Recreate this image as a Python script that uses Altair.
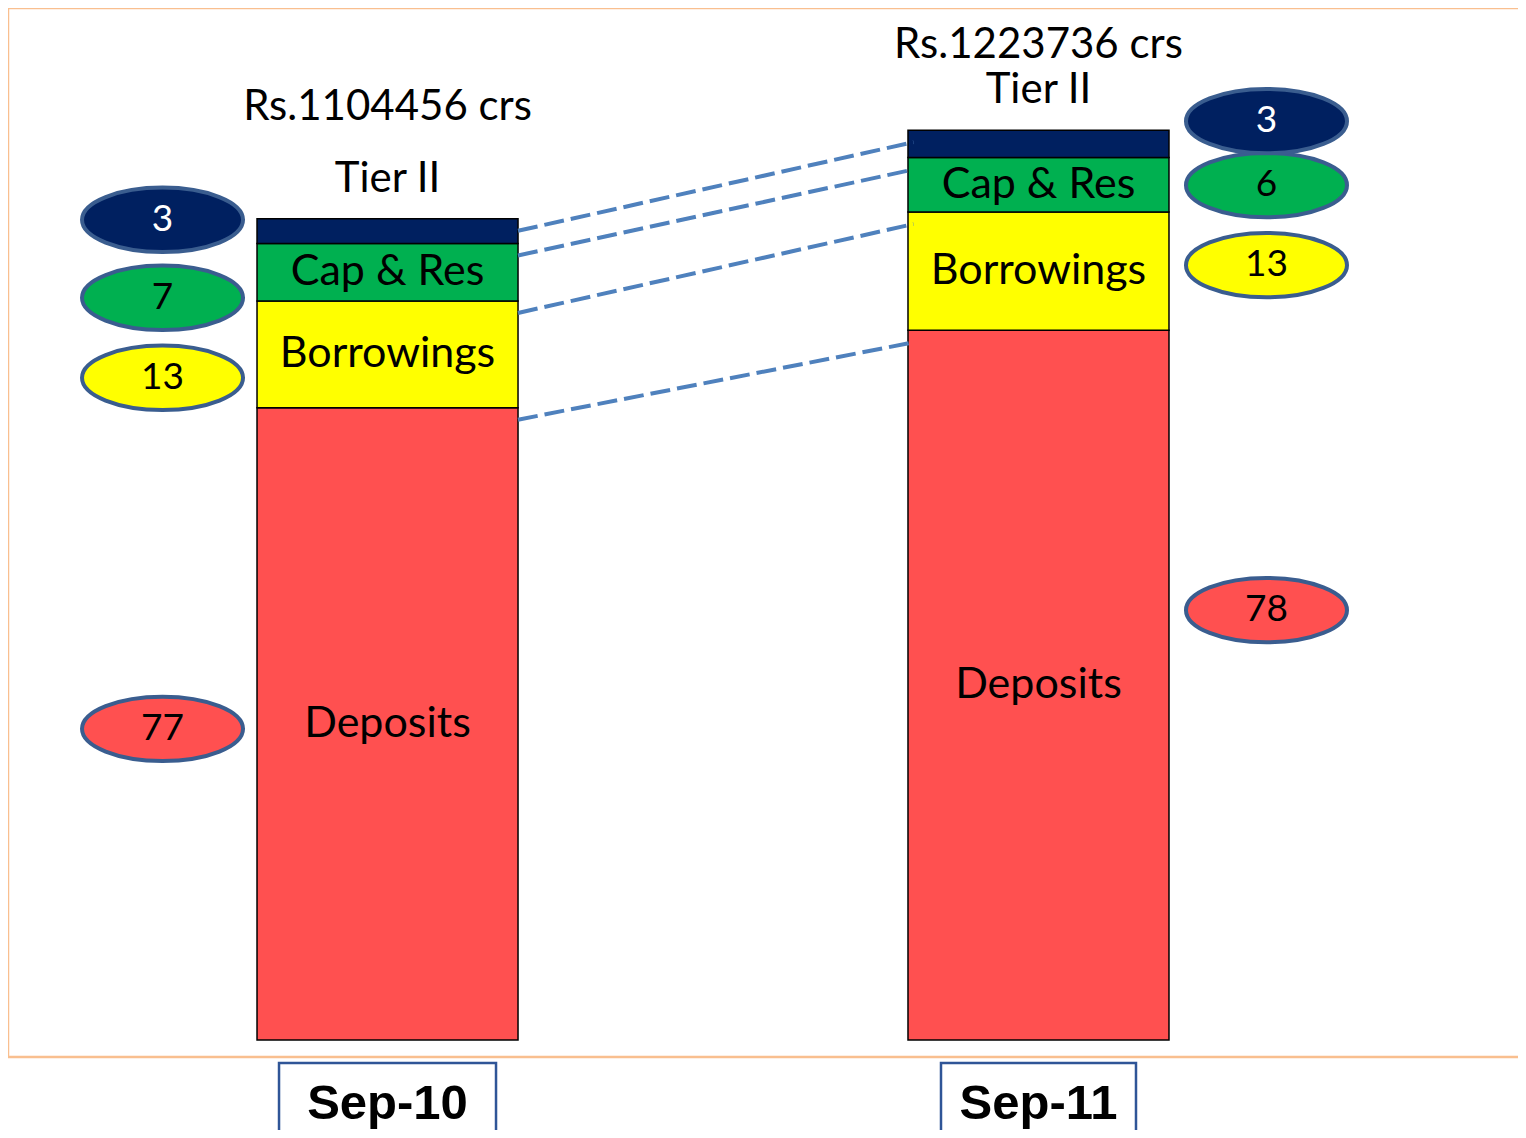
import altair as alt
import pandas as pd

# ---------------- data ----------------
periods = ["Sep-10", "Sep-11"]
totals = [1104456, 1223736]                      # Rs. crores
segments = ["Deposits", "Borrowings", "Cap & Res", "Tier II"]
pct_sep10 = [77, 13, 7, 3]
pct_sep11 = [78, 13, 6, 3]
seg_colors = ["#ff5050", "#ffff00", "#00b050", "#002060"]

# ---------------- layout (pixels) ----------------
W, H = 1510, 1049
Y_DOMAIN = [-22900, 1388000]
PX = H / (Y_DOMAIN[1] - Y_DOMAIN[0])             # pixels per data unit
ell_side = {"Sep-10": -225, "Sep-11": 228}       # ellipse column offset from bar centre
ell_stack = {"Sep-10": {"Tier II": 1, "Cap & Res": 79, "Borrowings": 159},
             "Sep-11": {"Tier II": -9, "Cap & Res": 55, "Borrowings": 135}}
dep_nudge = {"Sep-10": 5, "Sep-11": -75}
rs_dy = {"Sep-10": -112, "Sep-11": -85}

# ---------------- build tables ----------------
rows = []
for p, tot, pcts in zip(periods, totals, [pct_sep10, pct_sep11]):
    base = 0.0
    for k, (s, v) in enumerate(zip(segments, pcts)):
        amt = tot * v / 100.0
        rows.append(dict(period=p, segment=s, order=k, pct=v, amount=amt,
                         y0=base, y1=base + amt, total=tot,
                         inlabel=(s if s != "Tier II" else "")))
        base += amt
df = pd.DataFrame(rows)
df["mid"] = (df["y0"] + df["y1"]) / 2

# ellipse anchors (pixel gaps converted through the y scale)
ly = []
for r in df.itertuples():
    gaps = ell_stack[r.period]
    if r.segment in gaps:
        ly.append(r.total - gaps[r.segment] / PX)
    else:
        ly.append(r.mid - dep_nudge[r.period] / PX)
df["ly"] = ly

tot_df = pd.DataFrame({"period": periods, "total": totals,
                       "rs": [f"Rs.{t} crs" for t in totals],
                       "tier": ["Tier II"] * len(periods)})

# connectors: top of each segment in Sep-10 to the same in Sep-11
a = df[df.period == periods[0]].set_index("segment")
b = df[df.period == periods[1]].set_index("segment")
lines_df = pd.DataFrame({"p_from": periods[0], "p_to": periods[1],
                         "y_from": [a.loc[s, "y1"] for s in segments],
                         "y_to": [b.loc[s, "y1"] for s in segments]})

# ---------------- scales ----------------
xs = alt.Scale(domain=periods, paddingInner=0.599, paddingOuter=0.4593, align=0.4164)
ys = alt.Scale(domain=Y_DOMAIN, nice=False, zero=False)
cs = alt.Scale(domain=segments, range=seg_colors)
xaxis = alt.Axis(title=None, domain=False, ticks=False, tickSize=0, labelAngle=0,
                 labelFont="Liberation Sans", labelFontWeight="bold", labelFontSize=49,
                 labelColor="black", labelPadding=61, labelBaseline="alphabetic")
X = alt.X("period:N", scale=xs, axis=xaxis)

FONT = "Lato"
ELL = ("M -1 0 C -1 -0.221 -0.55 -0.4 0 -0.4 C 0.55 -0.4 1 -0.221 1 0 "
       "C 1 0.221 0.55 0.4 0 0.4 C -0.55 0.4 -1 0.221 -1 0 Z")

base = alt.Chart(df)

bars = base.mark_bar(stroke="black", strokeWidth=1.5, width=261).encode(
    x=X,
    y=alt.Y("y0:Q", scale=ys, axis=None),
    y2="y1:Q",
    color=alt.Color("segment:N", scale=cs, legend=None),
)

bar_text = base.transform_filter(alt.datum.inlabel != "").mark_text(
    font=FONT, fontSize=43, color="black", baseline="middle").encode(
    x=X, y=alt.Y("mid:Q", scale=ys), text="inlabel:N")

lines = alt.Chart(lines_df).mark_rule(
    strokeDash=[20, 7], strokeWidth=4, color="#4f81bd",
    xOffset=130.5, x2Offset=-125, yOffset=12, y2Offset=12).encode(
    x=alt.X("p_from:N", scale=xs, axis=xaxis), x2="p_to:N",
    y=alt.Y("y_from:Q", scale=ys), y2="y_to:Q")

ell_layers = []
for p in periods:
    off = ell_side[p]
    sub = base.transform_filter(alt.datum.period == p)
    ell_layers.append(sub.mark_point(
        shape=ELL, size=25921, filled=True, opacity=1,
        stroke="#3a5d8f", strokeWidth=4, xOffset=off).encode(
        x=X, y=alt.Y("ly:Q", scale=ys),
        fill=alt.Color("segment:N", scale=cs, legend=None)))
    ell_layers.append(sub.mark_text(
        font=FONT, fontSize=37, baseline="middle", xOffset=off).encode(
        x=X, y=alt.Y("ly:Q", scale=ys),
        text="pct:Q",
        color=alt.condition(alt.datum.segment == "Tier II",
                            alt.value("white"), alt.value("black"))))

tb = alt.Chart(tot_df)
title_layers = []
for p in periods:
    sub = tb.transform_filter(alt.datum.period == p)
    title_layers.append(sub.mark_text(font=FONT, fontSize=42, color="black",
                                      baseline="middle", dy=rs_dy[p]).encode(
        x=X, y=alt.Y("total:Q", scale=ys), text="rs:N"))
tier_text = tb.mark_text(font=FONT, fontSize=42, color="black", baseline="middle",
                         dy=-40).encode(x=X, y=alt.Y("total:Q", scale=ys), text="tier:N")

box_layers = []
for p, bw in zip(periods, [217, 195]):
    box_layers.append(tb.transform_filter(alt.datum.period == p).mark_bar(
        fillOpacity=0, stroke="#2f5597", strokeWidth=2.5, width=bw).encode(
        x=X, y=alt.value(H + 6), y2=alt.value(H + 140)))

# orange frame: top, left and bottom edges (right edge runs off the page)
frame_df = pd.DataFrame({"k": [0]})
FR = dict(color="#f9bf8f", strokeWidth=2.5)
frame = [
    alt.Chart(frame_df).mark_rule(**FR).encode(x=alt.value(0), x2=alt.value(W + 20), y=alt.value(0)),
    alt.Chart(frame_df).mark_rule(**FR).encode(x=alt.value(0), x2=alt.value(W + 20), y=alt.value(H)),
    alt.Chart(frame_df).mark_rule(**FR).encode(x=alt.value(0), y=alt.value(0), y2=alt.value(H)),
]

chart = alt.layer(*frame, bars, bar_text, lines, *ell_layers, *title_layers, tier_text,
                  *box_layers).properties(
    width=W, height=H,
    autosize=alt.AutoSizeParams(type="none"),
    padding={"left": 0, "top": 0, "right": 0, "bottom": 73},
    background="white",
).configure_view(strokeWidth=0)

chart.save("out.html", embed_options={"renderer": "svg", "actions": False})
